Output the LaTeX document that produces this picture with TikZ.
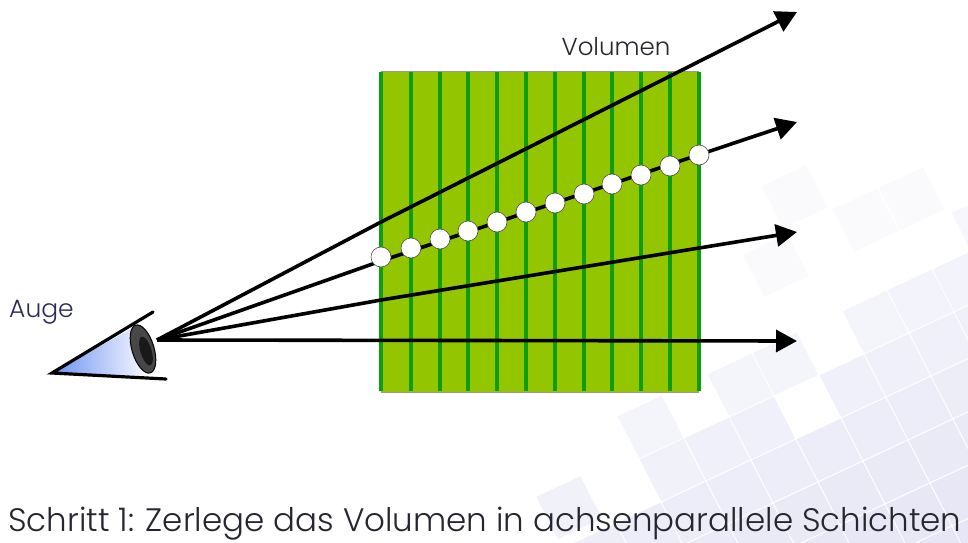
\documentclass[tikz,border=0pt]{standalone}
\usepackage{fontspec}
\setmainfont{Poppins Light}
\usetikzlibrary{arrows.meta}
\definecolor{vol}{HTML}{94C600}
\definecolor{slice}{HTML}{0F9D0F}
\definecolor{tile}{HTML}{E6E6F6}
\definecolor{txt}{HTML}{26262E}
\definecolor{eyeblue}{HTML}{6E92F2}
\definecolor{eyemid}{HTML}{CDD6F6}
\definecolor{augetxt}{HTML}{2C2C58}
\tikzset{
  ray/.style={line width=3.6pt,black,-{Triangle[length=21pt,width=22pt]}},
  slicebar/.style={slice,line width=4pt},
  hit/.style={circle,draw=black!70,fill=white,line width=.6pt,inner sep=0pt,minimum size=20pt},
  lbl/.style={inner sep=0pt,text=txt},
}
\newcommand{\tileat}[2]{%
  \pgfmathsetmacro\ax{908+45*(#1)+22*(#2)}%
  \pgfmathsetmacro\ay{440-21*(#1)+43*(#2)}%
  \pgfmathsetmacro\pct{min(100,max(20,0.8*(10+0.3*(\ay+11-300)+0.15*(\ax+33-600))))}%
  \fill[tile!\pct!white,draw=white,line width=.8pt] (\ax,\ay) -- ++(45,-21) -- ++(22,43) -- ++(-45,21) -- cycle;%
}
\begin{document}
\begin{tikzpicture}[x=1pt,y=-1pt]
\useasboundingbox (0,0) rectangle (968,542);
\fill[white] (0,0) rectangle (968,542);
\begin{scope}
\clip (0,0) rectangle (968,542);
% isolated tiles
\foreach \i/\j in {-0.3/-6.06,0.76/-5,1.78/-5,-1.27/-4.94,2.86/-3.89,-7.2/-2.2}{\tileat{\i}{\j}}
% main field
\foreach \i/\j in {-5/-3,-3/-3,-2/-3,0/-3,1/-3,2/-3,3/-3,
  -5/-2,-4/-2,-3/-2,-1/-2,0/-2,1/-2,2/-2,3/-2}{\tileat{\i}{\j}}
\foreach \j in {-1,0,1,2}{\foreach \i in {-7,...,4}{\tileat{\i}{\j}}}
\end{scope}
% volume
\coordinate (tl) at (381,71);
\coordinate (br) at (699,392);
\fill[vol] (tl) rectangle (br);
\draw[black!40,line width=.6pt] (tl) -- (br|-tl);
\draw[black!40,line width=.6pt] (tl|-br) -- (br);
\foreach \x in {381,411,440,468,497,526,555,584,612,641,670,699}{\draw[slicebar] (\x,72) -- (\x,391);}
% eye
\coordinate (eye) at (157,340);
\coordinate (ll) at (52,373);
\shade[left color=eyeblue,middle color=eyemid,right color=white] (ll) -- (136,326) -- (152,376) -- cycle;
\fill[black!72,draw=black,line width=1pt,rotate around={17:(143,349)}] (143,349) ellipse (11 and 25);
\fill[black!90,rotate around={17:(146,351)}] (146,351) ellipse (5.5 and 15);
\draw[line width=3.2pt,line cap=round] (153,312) -- (ll) -- (166,379);
% rays
\coordinate (e1) at (797,12);
\coordinate (e2) at (797,122);
\coordinate (e3) at (797,232);
\coordinate (e4) at (797,341);
\draw[ray] (eye) -- (381,222) -- (e1);
\draw[ray] (eye) -- (381,261) -- (e2);
\draw[ray] (eye) -- (381,300) -- (e3);
\draw[ray] (eye) -- (e4);
\foreach \n/\x/\y in {a/381/257,b/411/248,c/440/239,d/468/231,e/497/222,f/526/212,g/555/203,h/584/194,i/612/184,j/641/175,k/670/166,l/699/155}{\node[hit] (\n) at (\x,\y) {};}
% text
\node[lbl,anchor=base] (vl) at (616,55) {\fontsize{24.5}{28}\selectfont Volumen};
\node[lbl,anchor=base west,text=augetxt] (au) at (9,317) {\fontsize{25}{28}\selectfont Auge};
\node[lbl,anchor=base west] (cap) at (8,531) {\fontsize{32.5}{36}\selectfont Schritt 1: Zerlege das Volumen in achsenparallele Schichten};
\end{tikzpicture}
\end{document}
